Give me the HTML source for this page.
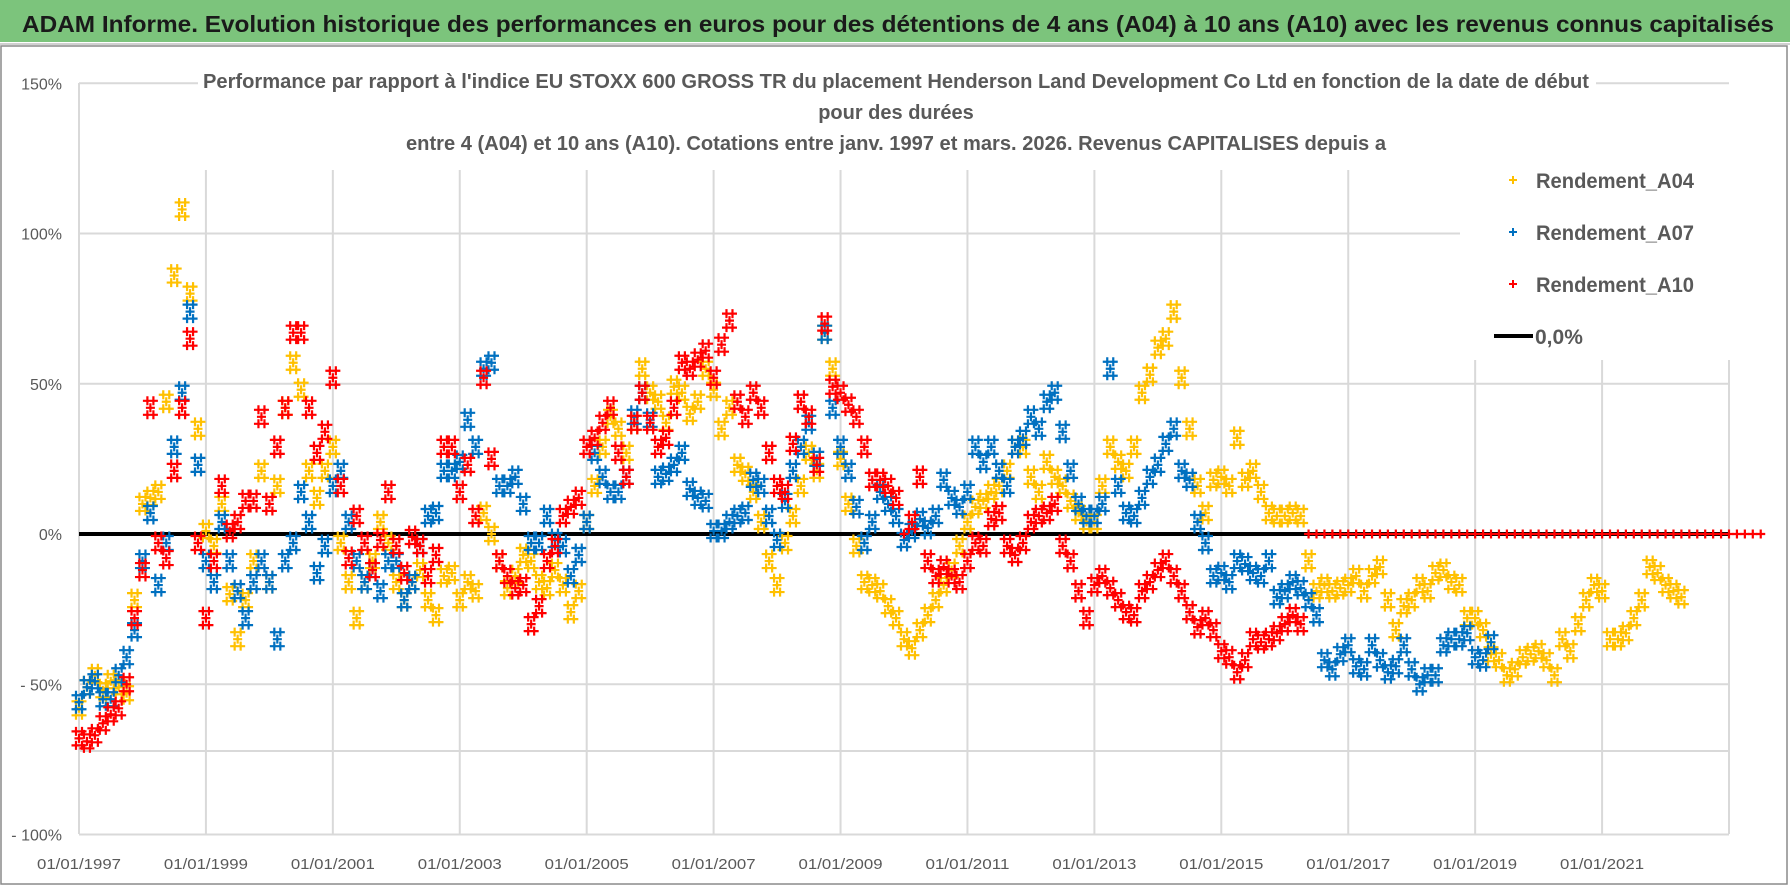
<!DOCTYPE html>
<html><head><meta charset="utf-8">
<style>
html,body{margin:0;padding:0;background:#fff;}
svg{display:block;font-family:"Liberation Sans",sans-serif;}
</style></head>
<body>
<svg id="chart" width="1790" height="886" viewBox="0 0 1790 886" xmlns="http://www.w3.org/2000/svg">
  <rect x="0" y="0" width="1790" height="886" fill="#fff"/>
  <rect x="0" y="0" width="1790" height="42" fill="#7CC47C"/>
  <line x1="0" y1="44" x2="1790" y2="44" stroke="#d0d0d0" stroke-width="2"/>
  <rect x="1" y="46" width="1786" height="838" fill="none" stroke="#8a8a8a" stroke-width="1.5"/>
  <text x="22" y="32" font-size="23" font-weight="bold" fill="#1a1a1a" textLength="1752" lengthAdjust="spacingAndGlyphs">ADAM Informe. Evolution historique des performances en euros pour des détentions de 4 ans (A04) à 10 ans (A10) avec les revenus connus capitalisés</text>
  <g id="grid"></g>
  <g id="yticks"></g>
  <g id="xticks"></g>
  <line id="zeroLine" stroke="#000" stroke-width="4"/>
  <g id="marks"></g>
  <rect x="198" y="62" width="1398" height="95" fill="#fff"/>
  <g fill="#595959" font-weight="bold" font-size="20" text-anchor="middle">
    <text x="896" y="88" textLength="1386" lengthAdjust="spacingAndGlyphs">Performance par rapport à l'indice EU STOXX 600 GROSS TR  du placement Henderson Land Development Co Ltd en fonction de la date de début</text>
    <text x="896" y="119">pour des durées</text>
    <text x="896" y="150" textLength="980" lengthAdjust="spacingAndGlyphs">entre 4 (A04) et 10 ans (A10). Cotations entre janv. 1997 et mars. 2026. Revenus CAPITALISES depuis a</text>
  </g>
  <rect x="1460" y="150" width="275" height="210" fill="#fff"/>
  <g font-size="21" font-weight="bold" fill="#595959">
    <g>
      <path d="M1509 180h8M1513 176v8" stroke="#FFC000" stroke-width="2"/>
      <text x="1536" y="188" textLength="158" lengthAdjust="spacingAndGlyphs">Rendement_A04</text>
    </g>
    <g>
      <path d="M1509 232h8M1513 228v8" stroke="#0070C0" stroke-width="2"/>
      <text x="1536" y="240" textLength="158" lengthAdjust="spacingAndGlyphs">Rendement_A07</text>
    </g>
    <g>
      <path d="M1509 284h8M1513 280v8" stroke="#FF0000" stroke-width="2"/>
      <text x="1536" y="292" textLength="158" lengthAdjust="spacingAndGlyphs">Rendement_A10</text>
    </g>
    <g>
      <line x1="1494" y1="336" x2="1533" y2="336" stroke="#000" stroke-width="4"/>
      <text x="1535" y="344">0,0%</text>
    </g>
  </g>
</svg>
<script>
const yTickValues = [150, 100, 50, 0, -50, -100];
const yTickLabels = ["150%", "100%", "50%", "0%", "- 50%", "- 100%"];
const xTickYears = [1997, 1999, 2001, 2003, 2005, 2007, 2009, 2011, 2013, 2015, 2017, 2019, 2021];
const xTickLabels = ["01/01/1997","01/01/1999","01/01/2001","01/01/2003","01/01/2005","01/01/2007","01/01/2009","01/01/2011","01/01/2013","01/01/2015","01/01/2017","01/01/2019","01/01/2021"];
const seriesStartYear = 1997;
const sampleStepYears = 0.125;
const a04Values = [-58,-51,-47,-52,-49,-51,-53,-22, 10,12,14,44,86,108,80,35, 1,-4,10,-20,-35,-22,-9,21, -16,16,42,57,48,21,12,21, 29,-3,-16,-28,-16,-9,4,-3, -16,-22,-16,-12,-22,-27,-14,-13, -22,-16,-19,7,0,-9,-18,-14, -7,-9,-16,-18,-12,-17,-26,-19, 4,16,29,39,35,27,37,55, 47,44,37,49,47,40,44,55, 48,35,42,23,20,14,4,-9, -17,-3,6,16,27,21,67,55, 25,10,-4,-16,-17,-19,-24,-28, -35,-38,-32,-27,-22,-17,-12,-4, 4,9,11,14,16,21,29,29, 19,14,24,19,16,11,7,4, 4,16,29,24,21,29,47,53, 62,65,74,52,35,16,7,18, 19,16,32,18,21,14,7,6, 6,7,6,-9,-19,-17,-19,-18, -17,-14,-19,-14,-11,-22,-32,-24, -22,-17,-19,-13,-12,-16,-17,-28, -28,-32,-40,-42,-47,-45,-41,-40, -39,-42,-47,-35,-39,-30,-22,-17, -19,-35,-35,-33,-28,-22,-11,-13, -17,-19,-21];
const a07Values = [-56,-51,-49,-55,-55,-47,-41,-32, -9,7,-17,-3,29,47,74,23, -9,-16,4,-9,-19,-28,-16,-9, -16,-35,-9,-3,14,4,-13,-4, 16,21,4,-9,-16,-12,-19,-9, -9,-22,-16,-4,6,7,21,21, 24,38,29,55,57,16,16,19, 10,-3,-3,6,-2,-4,-14,-7, 4,27,19,14,14,19,39,47, 38,19,20,23,27,15,12,11, 1,1,4,6,7,18,16,6, -2,11,21,29,37,25,67,42, 29,21,9,-3,4,14,10,6, -2,1,5,2,6,18,12,9, 14,29,24,29,21,16,29,32, 39,35,44,47,34,21,10,6, 6,10,55,16,7,6,12,19, 23,30,35,21,18,4,-3,-14, -13,-16,-9,-10,-13,-14,-9,-21, -19,-16,-18,-22,-27,-42,-45,-40, -37,-44,-45,-37,-42,-46,-44,-37, -45,-50,-47,-47,-37,-35,-35,-33, -41,-42,-36];
const a10Values = [-68,-69,-67,-63,-60,-58,-50,-28, -12,42,-3,-8,21,42,65,-3, -28,-9,16,1,4,11,11,39, 10,29,42,67,67,42,27,34, 52,16,-8,6,-3,-12,-2,14, -4,-13,-1,-4,-14,-7,29,29, 14,23,6,52,25,-9,-14,-18, -17,-30,-24,-9,-4,6,9,12, 29,32,37,42,27,19,37,47, 37,29,32,42,57,55,58,61, 52,63,71,44,39,47,42,27, 16,14,30,44,39,23,70,49, 47,43,39,29,18,18,16,12, 0,4,19,-9,-14,-11,-14,-16, -9,-3,-4,5,7,-4,-7,-3, 4,6,7,10,-4,-9,-19,-28, -17,-14,-18,-22,-26,-27,-19,-16, -12,-9,-14,-19,-26,-31,-28,-32, -39,-41,-46,-42,-35,-36,-35,-33, -30,-27,-30, 0,0,0,0,0, 0,0,0,0,0,0,0,0, 0,0,0,0,0,0,0,0, 0,0,0,0,0,0,0,0, 0,0,0,0,0,0,0,0, 0,0,0,0,0,0,0,0, 0,0,0,0,0,0,0,0, 0,0,0,0,0];

const NS = "http://www.w3.org/2000/svg";
const X0 = 79, X1 = 1729, YEAR0 = 1997, YEAR1 = 2023;
function xScale(year){ return X0 + (year - YEAR0) * (X1 - X0) / (YEAR1 - YEAR0); }
function yScale(pct){ return 534 - pct * 3.005; }

const grid = document.getElementById('grid');
function mk(tag, attrs, parent){ const e = document.createElementNS(NS, tag); for (const k in attrs) e.setAttribute(k, attrs[k]); parent.appendChild(e); return e; }

yTickValues.forEach(function(v, i){
  const y = yScale(v);
  const gl = mk('line', {x1: X0, y1: y, x2: X1, y2: y, stroke: '#d9d9d9', 'stroke-width': 2}, grid);
  
  
  const t = mk('text', {x: 62, y: y + 6, 'font-size': 16, fill: '#595959', 'text-anchor': 'end'}, document.getElementById('yticks'));
  t.textContent = yTickLabels[i];
  
  
});
const extra = mk('line', {x1: X0, y1: 751, x2: X1, y2: 751, stroke: '#d9d9d9', 'stroke-width': 2}, grid);



xTickYears.concat([2023]).forEach(function(yr){
  const x = xScale(yr);
  const gl = mk('line', {x1: x, y1: (yr === YEAR0 ? 83 : 170), x2: x, y2: 834, stroke: '#d9d9d9', 'stroke-width': 2}, grid);
  
  
});
xTickYears.forEach(function(yr, i){
  const t = mk('text', {x: xScale(yr), y: 869, 'font-size': 15, fill: '#595959', 'text-anchor': 'middle', textLength: 84, lengthAdjust: 'spacingAndGlyphs'}, document.getElementById('xticks'));
  t.textContent = xTickLabels[i];
  
  
});

const zl = document.getElementById('zeroLine');
zl.setAttribute('x1', X0); zl.setAttribute('x2', X1);
zl.setAttribute('y1', yScale(0)); zl.setAttribute('y2', yScale(0));

// Each data point is drawn as a small cluster glyph of "+" crosses (fixed glyph shape, centred on the value)
const glyphOffsets = [[0,0],[-3,-7],[3,7],[-3,7],[3,-7]];
const marks = document.getElementById('marks');
function drawSeries(values, color, name, spread){
  const g = mk('g', {stroke: color, 'stroke-width': 2.2, fill: 'none'}, marks);
  
  
  values.forEach(function(v, i){
    const x = xScale(seriesStartYear + i * sampleStepYears), y = yScale(v);
    let d = '';
    const offs = (v === 0 && !spread) ? [[0,0]] : glyphOffsets;
    offs.forEach(function(o){
      const cx = x + o[0], cy = y + o[1];
      d += 'M' + (cx - 4.5) + ' ' + cy + 'h9M' + cx + ' ' + (cy - 4.5) + 'v9';
    });
    const p = mk('path', {d: d}, g);
    
    
  });
}
drawSeries(a04Values, '#FFC000', 'series-a04', true);
drawSeries(a07Values, '#0070C0', 'series-a07', true);
drawSeries(a10Values, '#FF0000', 'series-a10', false);
</script>
</body></html>
